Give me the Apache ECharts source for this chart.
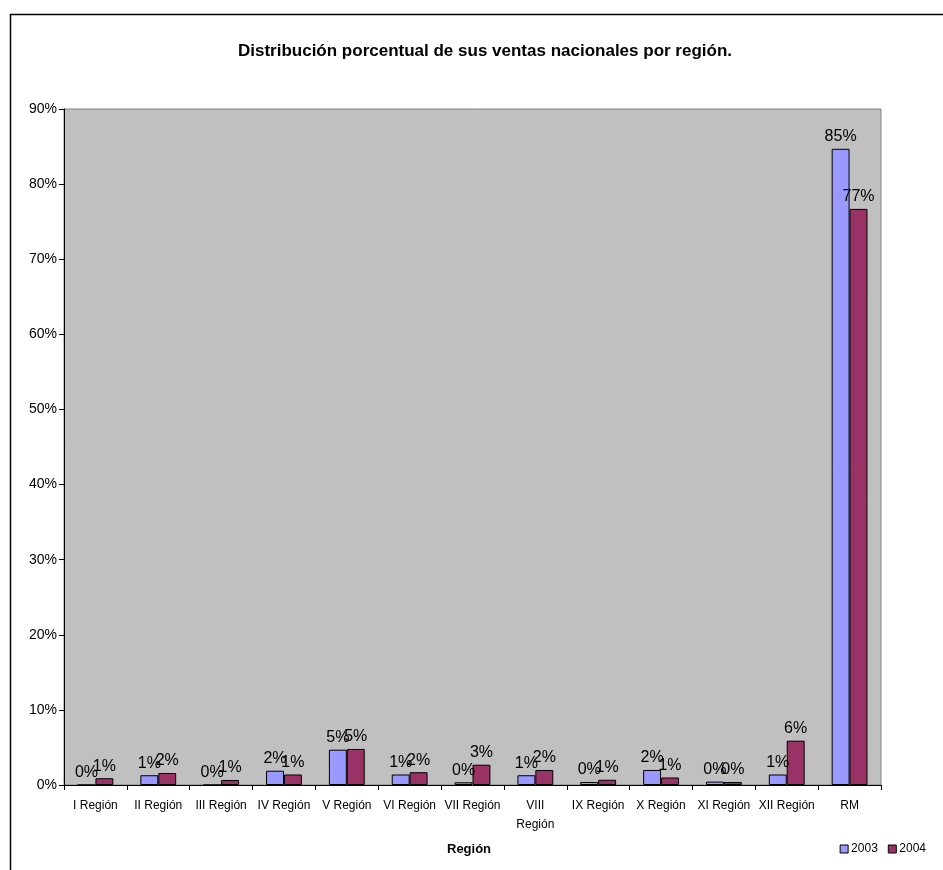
<!DOCTYPE html>
<html>
<head>
<meta charset="utf-8">
<script src="https://cdn.jsdelivr.net/npm/echarts@6/dist/echarts.min.js"></script>
<style>
  html, body { margin: 0; padding: 0; background: #fff; }
  #chart { width: 943px; height: 870px; }
</style>
</head>
<body>
<div id="chart"></div>
<script>
// Regions on the category axis
const regions = ['I Región', 'II Región', 'III Región', 'IV Región', 'V Región', 'VI Región',
  'VII Región', 'VIII Región', 'IX Región', 'X Región', 'XI Región', 'XII Región', 'RM'];

// Share of national sales per region (%)
const sales2003 = [0, 1.3, 0, 1.9, 4.7, 1.4, 0.36, 1.3, 0.4, 2.0, 0.45, 1.4, 84.7];
const sales2004 = [0.9, 1.6, 0.67, 1.4, 4.8, 1.7, 2.7, 2.0, 0.7, 1.0, 0.4, 5.9, 76.7];

// Y axis ticks (%)
const yMin = 0, yMax = 90, yStep = 10;

const chart = echarts.init(document.getElementById('chart'));
const font = '"Liberation Sans", Arial, sans-serif';

const labelCfg = {
  show: true,
  position: 'top',
  distance: 4,
  color: '#000',
  fontFamily: font,
  fontSize: 16,
  formatter: p => Math.round(p.value) + '%'
};

chart.setOption({
  animation: false,
  title: {
    text: 'Distribución porcentual de sus ventas nacionales por región.',
    left: 480,
    textAlign: 'center',
    top: 38,
    textStyle: { fontFamily: font, fontSize: 17, fontWeight: 'bold', color: '#000' }
  },
  legend: {
    right: 12,
    top: 838,
    itemWidth: 8,
    itemHeight: 8,
    itemGap: 10,
    icon: 'rect',
    itemStyle: { borderColor: '#000', borderWidth: 1 },
    textStyle: { fontFamily: font, fontSize: 12, color: '#000', padding: [0, 0, 0, -2] },
    data: ['2003', '2004']
  },
  grid: { left: 64, right: 62, top: 109, bottom: 85, show: true,
          backgroundColor: '#C0C0C0', borderColor: '#808080', borderWidth: 1 },
  xAxis: {
    type: 'category',
    data: regions,
    axisLine: { lineStyle: { color: '#000' } },
    axisTick: { show: true, alignWithLabel: false, length: 5, lineStyle: { color: '#000' } },
    axisLabel: {
      interval: 0,
      margin: 11,
      fontFamily: font,
      fontSize: 12,
      color: '#000',
      lineHeight: 19,
      formatter: v => v === 'VIII Región' ? 'VIII\nRegión' : v
    }
  },
  yAxis: {
    type: 'value',
    min: yMin, max: yMax, interval: yStep,
    splitLine: { show: false },
    axisLine: { show: true, lineStyle: { color: '#000' } },
    axisTick: { show: true, length: 5, lineStyle: { color: '#000' } },
    axisLabel: { fontFamily: font, fontSize: 14, color: '#000', margin: 7,
                 formatter: '{value}%' }
  },
  series: [
    {
      name: '2003', type: 'bar', data: sales2003,
      barGap: '0%', barCategoryGap: '43%',
      itemStyle: { color: '#9999FF', borderColor: '#000', borderWidth: 1 },
      label: labelCfg
    },
    {
      name: '2004', type: 'bar', data: sales2004,
      itemStyle: { color: '#993366', borderColor: '#000', borderWidth: 1 },
      label: labelCfg
    }
  ],
  graphic: [
    { type: 'rect', left: 8, top: 12, shape: { width: 1000, height: 1000 },
      style: { fill: 'none', stroke: '#000', lineWidth: 1.5 }, silent: true },
    { type: 'text', left: 447, top: 843,
      style: { text: 'Región', textAlign: 'center', fontFamily: font, fontSize: 13,
               fontWeight: 'bold', fill: '#000' } }
  ]
});
</script>
</body>
</html>
